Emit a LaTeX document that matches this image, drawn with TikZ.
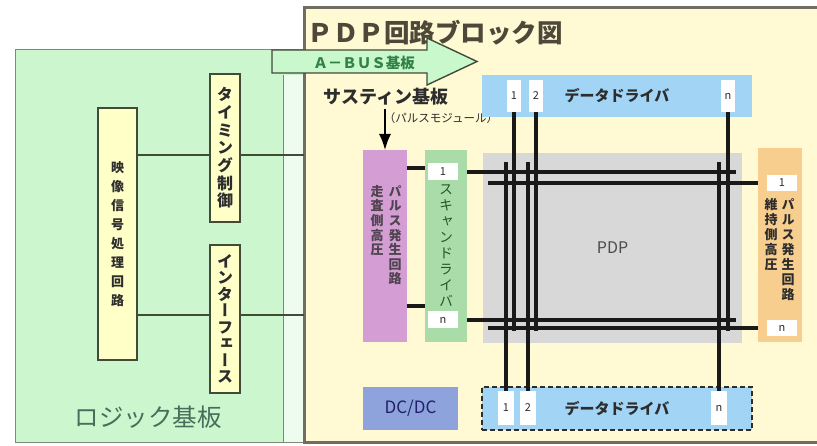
\documentclass[tikz,border=0pt]{standalone}
\usepackage{fontspec}
\setmainfont{Noto Sans CJK JP}
\newfontfamily\tatefont[RawFeature={+vert}]{Noto Sans CJK JP}
\usetikzlibrary{arrows.meta}
\definecolor{logicGreen}{RGB}{204, 247, 206}
\definecolor{logicEdge}{RGB}{120, 140, 120}
\definecolor{logicText}{RGB}{70, 110, 90}
\definecolor{boardYellow}{RGB}{255, 250, 212}
\definecolor{boardEdge}{RGB}{112, 110, 98}
\definecolor{titleGray}{RGB}{78, 72, 58}
\definecolor{chipYellow}{RGB}{255, 255, 200}
\definecolor{chipEdge}{RGB}{66, 74, 56}
\definecolor{busGreen}{RGB}{200, 248, 204}
\definecolor{busText}{RGB}{50, 130, 70}
\definecolor{driverBlue}{RGB}{162, 212, 246}
\definecolor{pulsePurple}{RGB}{212, 158, 212}
\definecolor{scanGreen}{RGB}{170, 220, 170}
\definecolor{sustainOrange}{RGB}{248, 206, 142}
\definecolor{panelGray}{RGB}{216, 216, 216}
\definecolor{dcdcBlue}{RGB}{142, 162, 220}
\definecolor{darkText}{RGB}{45, 45, 45}

% vertical (tategaki) text: one glyph per line
\makeatletter
\newcommand\tate[2]{\vtop{\tatefont\baselineskip=#1pt\lineskiplimit=-50pt\@tfor\tch:=#2\do{\hbox to 1em{\hss\tch\hss}}}}
\makeatother

\begin{document}
\begin{tikzpicture}[x=1pt, y=-1pt,
    unit/.style={inner sep=0pt, outer sep=0pt},
    chip/.style={draw=chipEdge, line width=1.8pt, fill=chipYellow, inner sep=0pt, text=darkText},
    pin/.style={fill=white, inner sep=0pt, text=darkText, font=\fontsize{11}{11}\selectfont},
    electrode/.style={line width=3.2pt, draw=black!90},
    wire/.style={line width=1.6pt, draw=chipEdge}]
    \useasboundingbox (0,0) rectangle (817,446);

    % Logic board
    \node[unit, draw=logicEdge, line width=1pt, fill=logicGreen, minimum width=288, minimum height=392, anchor=north west] (logic) at (15,50) {};
    \fill[logicGreen!35] (283,75) rectangle (303,442);
    \draw[logicEdge, line width=1pt] (283,75) -- (283,442);
    \node[font=\fontsize{24.5}{24.5}\selectfont, text=logicText] (logictxt) at (148,417) {ロジック基板};

    \node[chip, minimum width=39, minimum height=252, font=\fontsize{13}{13}\selectfont\bfseries] (video) at (117.5,234) {\tate{19}{映像信号処理回路}};
    \node[chip, minimum width=30, minimum height=148, font=\fontsize{16}{16}\selectfont\bfseries] (timing) at (225,148) {\tate{17.7}{タイミング制御}};
    \node[chip, minimum width=30, minimum height=148, font=\fontsize{16}{16}\selectfont\bfseries] (iface) at (225,319) {\tate{16.5}{インターフェース}};

    % PDP board
    \node[unit, draw=boardEdge, line width=3pt, fill=boardYellow, minimum width=520, minimum height=434, anchor=north west] (pdpboard) at (304,8) {};
    \node[font=\fontsize{25.5}{25.5}\selectfont\bfseries, text=titleGray] (title) at (435,33) {ＰＤＰ回路ブロック図};

    % wires out of the logic board
    \coordinate (l1) at (0,155);
    \coordinate (l2) at (0,315);
    \draw[wire] (video.east |- l1) -- (timing.west |- l1);
    \draw[wire] (timing.east |- l1) -- (pdpboard.west |- l1);
    \draw[wire] (video.east |- l2) -- (iface.west |- l2);
    \draw[wire] (iface.east |- l2) -- (pdpboard.west |- l2);

    % A-BUS
    \draw[fill=busGreen, draw=chipEdge, line width=1.4pt, line join=miter] (272,50) -- (427,50) -- (427,38) -- (477,61.5) -- (427,85) -- (427,73) -- (272,73) -- cycle;
    \node[font=\fontsize{14.5}{14.5}\selectfont\bfseries, text=busText] (abus) at (364,63) {Ａ－ＢＵＳ基板};

    % Sustain module
    \node[font=\fontsize{18}{18}\selectfont\bfseries, text=darkText] (sustain) at (386,97) {サスティン基板};
    \node[font=\fontsize{11.5}{11.5}\selectfont, text=darkText] (pmod) at (441,118) {（パルスモジュール）};
    \node[unit, fill=pulsePurple, minimum width=44, minimum height=192] (pulse) at (385,246) {};
    \node[anchor=north, inner sep=0pt, text=darkText!80!pulsePurple, font=\fontsize{13}{13}\selectfont\bfseries] (pulsetxt) at (386,185) {\hbox{\tate{14.6}{走査側高圧}\hskip5pt\tate{14.6}{パルス発生回路}}};
    \coordinate (arrstart) at (385,109);
    \draw[-{Latex[length=16pt,width=12pt]}, line width=1.6pt] (arrstart) -- (pulse.north);

    \node[unit, fill=scanGreen, minimum width=42, minimum height=192, text=darkText!80!green, font=\fontsize{14}{14}\selectfont] (scan) at (446,246) {\tate{16}{スキャンドライバ}};
    \node[pin, minimum width=30, minimum height=17] (s1) at (443,172) {1};
    \node[pin, minimum width=30, minimum height=17] (sn) at (443,320) {n};

    \node[unit, fill=sustainOrange, minimum width=44, minimum height=194] (sus) at (780,245) {};
    \node[anchor=north, inner sep=0pt, text=darkText, font=\fontsize{13}{13}\selectfont\bfseries] (sustxt) at (779.5,198) {\hbox{\tate{15}{維持側高圧}\hskip4pt\tate{15}{パルス発生回路}}};
    \node[pin, minimum width=30, minimum height=16] (r1) at (782,183) {1};
    \node[pin, minimum width=30, minimum height=16] (rn) at (782,328) {n};

    % Panel
    \node[unit, fill=panelGray, minimum width=259, minimum height=190, text=darkText!85, font=\fontsize{16}{16}\selectfont] (panel) at (612.5,248) {PDP};

    % Data drivers
    \node[unit, fill=driverBlue, minimum width=270, minimum height=42, text=darkText, font=\fontsize{15}{15}\selectfont\bfseries] (tdrv) at (617,96) {データドライバ};
    \node[unit, fill=driverBlue, draw=darkText, line width=2pt, dash pattern=on 5pt off 3pt, minimum width=270, minimum height=43, text=darkText, font=\fontsize{15}{15}\selectfont\bfseries] (bdrv) at (617,408.5) {データドライバ};
    \foreach \name/\x/\lab in {t1/514/1, t2/536/2, tn/728/n}
        \node[pin, minimum width=14, minimum height=32] (\name) at (\x,96) {\lab};
    \foreach \name/\x/\lab in {b1/506/1, b2/528/2, bn/719/n}
        \node[pin, minimum width=16, minimum height=34] (\name) at (\x,408) {\lab};

    \node[unit, fill=dcdcBlue, minimum width=95, minimum height=43, text=darkText!70!blue, font=\fontsize{17}{17}\selectfont] (dcdc) at (410.5,408.5) {DC/DC};

    % Electrodes
    \coordinate (tend) at (0,331);
    \coordinate (bend) at (0,162);
    \coordinate (send) at (736,0);
    \coordinate (rend) at (488,0);
    \foreach \w in {t1,t2,tn}
        \draw[electrode] (\w.south) -- (\w |- tend);
    \foreach \w in {b1,b2,bn}
        \draw[electrode] (\w.north) -- (\w |- bend);
    \foreach \w in {s1,sn}
        \draw[electrode] (\w -| scan.east) -- (\w -| send);
    \foreach \w in {r1,rn}
        \draw[electrode] (\w -| sus.west) -- (\w -| rend);

    % pulse -> scan driver
    \coordinate (c1) at (0,168);
    \coordinate (c2) at (0,306);
    \draw[electrode] (pulse.east |- c1) -- (scan.west |- c1);
    \draw[electrode] (pulse.east |- c2) -- (scan.west |- c2);
\end{tikzpicture}
\end{document}
